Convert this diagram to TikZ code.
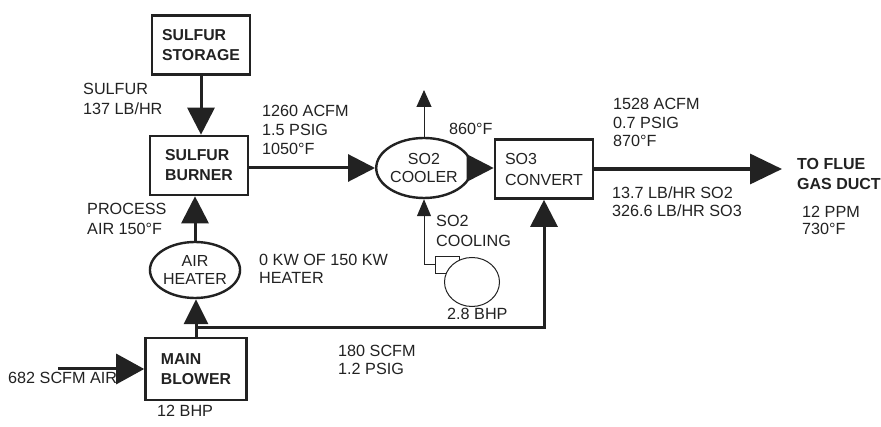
\documentclass[tikz,border=0pt]{standalone}
\usepackage{fontspec}
\setmainfont{Liberation Sans}
\usetikzlibrary{arrows.meta,shapes.geometric}
\definecolor{ink}{HTML}{222222}
\tikzset{
  unit box/.style={draw=ink, line width=2.6pt, rectangle, inner sep=0pt, minimum width=98pt, minimum height=59pt, align=left, text=ink, font=\bfseries\fontsize{15.8}{20}\selectfont},
  unit ell/.style={draw=ink, line width=2.4pt, ellipse, inner sep=0pt, align=center, text=ink, font=\fontsize{16}{17.5}\selectfont},
  lbl/.style={anchor=north west, inner sep=0pt, align=left, text=ink, font=\fontsize{16.2}{19}\selectfont},
  flow/.style={draw=ink, line width=3pt, -{Triangle[length=27pt,width=27pt]}},
  thinflow/.style={draw=ink, line width=1pt, -{Triangle[length=17pt,width=15pt]}},
  fanpart/.style={draw=ink, line width=1pt, fill=white, inner sep=0pt}
}
\begin{document}
\begin{tikzpicture}[x=1pt,y=-1pt]
\fill[white] (0,0) rectangle (881,427);
\useasboundingbox (0,0) rectangle (881,427);

% units
\node[unit box] (storage) at (201,45) {SULFUR\\STORAGE};
\node[unit box] (burner) at (199,165.5) {SULFUR\\BURNER};
\node[unit box, minimum width=101pt, minimum height=62pt] (blower) at (196,369) {MAIN\\BLOWER};
\node[unit ell, minimum width=90pt, minimum height=56pt] (heater) at (195,270) {AIR\\HEATER};
\node[unit ell, minimum width=88pt, minimum height=60pt] (cooler) at (424,168) {SO2\\COOLER};
\node[unit box, font=\fontsize{16}{21}\selectfont] (convert) at (544,169) {SO3\\CONVERT};

% cooling fan
\node[fanpart, rectangle, minimum width=24pt, minimum height=17pt] (fanduct) at (447,265) {};
\node[fanpart, ellipse, minimum width=55pt, minimum height=49pt] (fan) at (472,282) {};

% free ends
\coordinate (vent) at (424,90);
\coordinate (flue) at (782,169);
\coordinate (airin) at (58,369);
\coordinate (junc) at (196,328);

% connectors
\draw[flow] (storage.south) -- (storage.south |- burner.north);
\draw[flow] (burner.east |- cooler.west) -- (cooler.west);
\draw[flow] (cooler.east) -- (cooler.east -| convert.west);
\draw[flow, line width=3.4pt, -{Triangle[length=32pt,width=30pt]}] (convert.east) -- (flue);
\draw[flow] (heater.north) -- (heater.north |- burner.south);
\draw[flow, -{Triangle[length=25pt,width=24pt]}] (blower.north) -- (blower.north |- heater.south);
\draw[flow, -{Triangle[length=28pt,width=30pt]}] (airin) -- (blower.west);
\draw[flow] (junc) -| (convert.south);
\draw[thinflow] (cooler.north) -- (vent);
\draw[thinflow, -{Triangle[length=17pt,width=14pt]}] (fanduct.west) -| (cooler.south);

% labels
\node[lbl, font=\fontsize{16.2}{20}\selectfont] (l1) at (83,83) {SULFUR\\137 LB/HR};
\node[lbl] (l2) at (262,105) {1260 ACFM\\1.5 PSIG\\1050°F};
\node[lbl] (l3) at (449,123) {860°F};
\node[lbl, font=\fontsize{16.2}{18.5}\selectfont] (l4) at (613,98) {1528 ACFM\\0.7 PSIG\\870°F};
\node[lbl, font=\fontsize{16.2}{18}\selectfont] (l5) at (612,187) {13.7 LB/HR SO2\\326.6 LB/HR SO3};
\node[lbl, font=\bfseries\fontsize{16}{20}\selectfont] (l6) at (797,158) {TO FLUE\\GAS DUCT};
\node[lbl, font=\fontsize{16.2}{17}\selectfont] (l7) at (802,206) {12 PPM\\730°F};
\node[lbl, font=\fontsize{16.2}{20}\selectfont] (l8) at (436,215) {SO2\\COOLING};
\node[lbl] (l9) at (447,308) {2.8 BHP};
\node[lbl, font=\fontsize{16.2}{18}\selectfont] (l10) at (259,254) {0 KW OF 150 KW\\HEATER};
\node[lbl, font=\fontsize{16.2}{20}\selectfont] (l11) at (87,203) {PROCESS\\AIR 150°F};
\node[lbl] (l12) at (8,372) {682 SCFM AIR};
\node[lbl] (l13) at (157,405) {12 BHP};
\node[lbl, font=\fontsize{16.2}{17.5}\selectfont] (l14) at (338,345) {180 SCFM\\1.2 PSIG};
\end{tikzpicture}
\end{document}
